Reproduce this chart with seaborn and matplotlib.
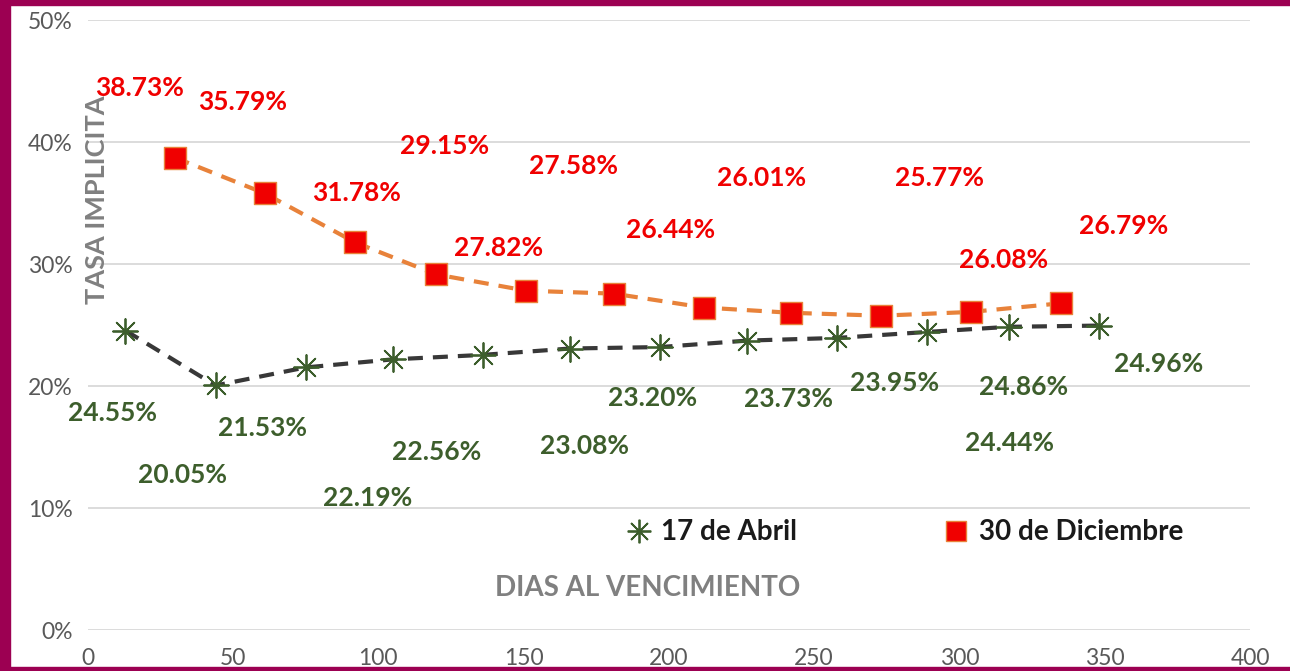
import numpy as np
import pandas as pd
import matplotlib
matplotlib.use("Agg")
import matplotlib.pyplot as plt
import seaborn as sns
from matplotlib.lines import Line2D
from matplotlib.patches import Rectangle

# data
dias_abril = [13, 44, 75, 105, 136, 166, 197, 227, 258, 289, 317, 348]
tasa_abril = [24.55, 20.05, 21.53, 22.19, 22.56, 23.08, 23.20, 23.73, 23.95, 24.44, 24.86, 24.96]

dias_dic = [30, 61, 92, 120, 151, 181, 212, 242, 273, 304, 335]
tasa_dic = [38.73, 35.79, 31.78, 29.15, 27.82, 27.58, 26.44, 26.01, 25.77, 26.08, 26.79]

series_names = ["17 de Abril", "30 de Diciembre"]
x_ticks = [0, 50, 100, 150, 200, 250, 300, 350, 400]
y_ticks = [0, 10, 20, 30, 40, 50]

# label offsets in pixels (label centre relative to point)
off_abril = [(-13, -82), (-33, -90), (-43, -61), (-25, -139), (-46, -97), (14, -97),
             (-8, -51), (41, -58), (57, -45), (82, -111), (15, -60), (60, -38)]
off_dic = [(-35, 70), (-22, 91), (1, 49), (8, 128), (-28, 43), (-40, 128),
           (-33, 78), (-29, 135), (59, 138), (33, 52), (62, 77)]

df_abril = pd.DataFrame({"dias": dias_abril, "tasa": tasa_abril})
df_dic = pd.DataFrame({"dias": dias_dic, "tasa": tasa_dic})

sns.set_theme(style="white")
plt.rcParams["font.family"] = ["Lato", "DejaVu Sans"]

GREEN = "#3d5e2c"
RED = "#f00000"
ORANGE = "#e8823a"
GRAY = "#808080"

fig = plt.figure(figsize=(12.9, 6.71), dpi=100)
fig.patch.set_facecolor("white")
ax = fig.add_axes([0.068, 0.061, 0.901, 0.909])

sns.lineplot(data=df_abril, x="dias", y="tasa", ax=ax, color="#383838",
             linewidth=3, zorder=2)
ax.lines[-1].set_dashes([3.6, 2.4])
sns.lineplot(data=df_dic, x="dias", y="tasa", ax=ax, color=ORANGE,
             linewidth=3, zorder=2)
ax.lines[-1].set_dashes([3.6, 2.4])

sns.scatterplot(data=df_abril, x="dias", y="tasa", ax=ax, marker=(8, 2, 0),
                s=320, color=GREEN, edgecolor=GREEN, linewidth=1.3, zorder=3)
sns.scatterplot(data=df_dic, x="dias", y="tasa", ax=ax, marker="s",
                s=260, color=RED, edgecolor=ORANGE, linewidth=1.0, zorder=3)

for x, y, (dx, dy) in zip(dias_abril, tasa_abril, off_abril):
    ax.annotate(f"{y:.2f}%", (x, y), xytext=(dx, dy), textcoords="offset pixels",
                ha="center", va="center", color=GREEN, fontsize=19,
                fontweight="bold", zorder=4)
for x, y, (dx, dy) in zip(dias_dic, tasa_dic, off_dic):
    ax.annotate(f"{y:.2f}%", (x, y), xytext=(dx, dy), textcoords="offset pixels",
                ha="center", va="center", color=RED, fontsize=19,
                fontweight="bold", zorder=4)

ax.set_xlim(0, 400)
ax.set_ylim(0, 50)
ax.set_xticks(x_ticks)
ax.set_yticks(y_ticks)
ax.set_yticklabels([f"{t}%" for t in y_ticks])
ax.tick_params(axis="both", length=0, labelsize=16.5, labelcolor="#595959")
ax.tick_params(axis="x", pad=13)
ax.tick_params(axis="y", pad=11)
ax.yaxis.grid(True, color="#d9d9d9", linewidth=1.3)
ax.set_axisbelow(True)
for s in ax.spines.values():
    s.set_visible(False)
ax.set_xlabel("")
ax.set_ylabel("")

fig.text(0.075, 0.702, "TASA IMPLICITA", rotation=90, ha="center", va="center",
         color=GRAY, fontsize=19.5, fontweight="bold")
fig.text(0.502, 0.124, "DIAS AL VENCIMIENTO", ha="center", va="center",
         color=GRAY, fontsize=20, fontweight="bold")

handles = [
    Line2D([], [], linestyle="none", marker=(8, 2, 0), markersize=17,
           markeredgecolor=GREEN, markerfacecolor=GREEN, markeredgewidth=1.3),
    Line2D([], [], linestyle="none", marker="s", markersize=14,
           markerfacecolor=RED, markeredgecolor=ORANGE),
]
leg = ax.legend(handles, series_names, loc="center", bbox_to_anchor=(0.701, 0.16),
                ncol=2, frameon=False, columnspacing=5.15, handletextpad=0.2,
                handlelength=1.2,
                prop={"family": ["Lato", "DejaVu Sans"], "weight": "bold", "size": 20})
for t in leg.get_texts():
    t.set_color("#1a1a1a")

# maroon frame
fc = "#9c0052"
fig.patches.append(Rectangle((0, 0), 10 / 1290, 1, transform=fig.transFigure, color=fc, zorder=10))
fig.patches.append(Rectangle((0, 1 - 5 / 671), 1, 5 / 671, transform=fig.transFigure, color=fc, zorder=10))
fig.patches.append(Rectangle((0, 0), 1, 4 / 671, transform=fig.transFigure, color=fc, zorder=10))

fig.savefig("out.png", dpi=100)
